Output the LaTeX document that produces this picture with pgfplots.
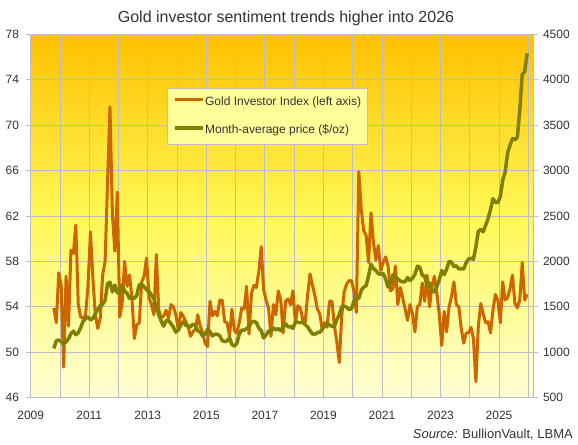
\documentclass[border=0pt]{standalone}
\usepackage{fontspec}
\setmainfont{Liberation Sans}
\usepackage{pgfplots}
\usepackage{pgfplotstable}
\pgfplotsset{compat=1.18}
\definecolor{gii}{HTML}{CC6600}
\definecolor{goldc}{HTML}{808000}
\definecolor{gridc}{HTML}{BDBDC8}
\definecolor{txt}{HTML}{333333}
\definecolor{bgtop}{HTML}{FFC000}
\definecolor{bgmid}{HTML}{FFF855}
\definecolor{bgbot}{HTML}{FFFFD5}
\definecolor{legfill}{HTML}{FFFF99}

\pgfplotstableread{
x gii price
2009.792 53.9 1043.16
2009.875 52.6 1127.04
2009.958 57.0 1134.72
2010.042 55.9 1117.96
2010.125 48.7 1095.41
2010.208 56.7 1113.34
2010.292 52.3 1148.69
2010.375 59.0 1205.43
2010.458 58.7 1232.92
2010.542 61.2 1192.97
2010.625 54.2 1215.81
2010.708 53.1 1270.98
2010.792 53.0 1342.02
2010.875 53.3 1369.89
2010.958 55.9 1390.55
2011.042 60.6 1356.40
2011.125 56.5 1372.73
2011.208 53.3 1424.01
2011.292 52.1 1473.81
2011.375 53.0 1510.44
2011.458 56.8 1528.66
2011.542 58.0 1572.81
2011.625 65.0 1755.81
2011.708 71.6 1771.85
2011.792 62.1 1665.21
2011.875 58.9 1738.98
2011.958 64.1 1652.31
2012.042 53.1 1656.12
2012.125 54.3 1742.62
2012.208 58.0 1673.77
2012.292 55.8 1649.69
2012.375 56.8 1591.19
2012.458 54.8 1598.76
2012.542 51.2 1593.91
2012.625 52.4 1626.03
2012.708 52.6 1744.81
2012.792 56.2 1746.58
2012.875 56.7 1721.64
2012.958 58.3 1688.53
2013.042 54.8 1670.95
2013.125 54.2 1627.57
2013.208 53.3 1592.86
2013.292 58.6 1485.08
2013.375 53.7 1413.50
2013.458 53.0 1342.36
2013.542 53.2 1286.72
2013.625 53.7 1347.65
2013.708 53.0 1348.60
2013.792 54.2 1316.58
2013.875 54.0 1275.86
2013.958 53.3 1221.51
2014.042 52.0 1244.27
2014.125 53.5 1299.58
2014.208 53.2 1336.08
2014.292 52.7 1298.45
2014.375 52.3 1288.74
2014.458 51.4 1279.10
2014.542 51.8 1310.59
2014.625 52.0 1295.13
2014.708 53.3 1236.55
2014.792 52.3 1222.49
2014.875 51.7 1175.33
2014.958 50.8 1200.62
2015.042 50.5 1251.85
2015.125 54.5 1227.08
2015.208 53.2 1178.63
2015.292 53.6 1198.93
2015.375 53.2 1198.63
2015.458 54.6 1181.50
2015.542 54.6 1128.31
2015.625 52.7 1117.93
2015.708 52.6 1124.77
2015.792 51.4 1159.25
2015.875 53.8 1085.70
2015.958 51.9 1068.25
2016.042 51.7 1097.91
2016.125 52.6 1199.50
2016.208 53.9 1245.14
2016.292 53.8 1242.26
2016.375 55.8 1260.95
2016.458 51.6 1276.40
2016.542 55.2 1336.66
2016.625 55.9 1340.17
2016.708 55.7 1326.61
2016.792 57.1 1266.55
2016.875 59.3 1238.35
2016.958 55.5 1157.36
2017.042 54.6 1192.10
2017.125 53.9 1234.20
2017.208 51.4 1231.09
2017.292 54.2 1266.88
2017.375 53.3 1246.04
2017.458 55.4 1260.26
2017.542 54.6 1236.84
2017.625 51.7 1283.04
2017.708 54.5 1314.07
2017.792 54.7 1279.51
2017.875 54.2 1281.90
2017.958 55.4 1264.45
2018.042 52.6 1331.30
2018.125 54.1 1330.73
2018.208 53.9 1324.66
2018.292 52.9 1334.76
2018.375 52.6 1303.45
2018.458 55.0 1281.57
2018.542 56.9 1237.71
2018.625 55.9 1201.71
2018.708 55.0 1198.39
2018.792 53.8 1215.39
2018.875 53.4 1220.65
2018.958 52.0 1250.40
2019.042 52.6 1291.75
2019.125 52.2 1320.07
2019.208 54.5 1300.90
2019.292 54.5 1285.91
2019.375 52.3 1283.70
2019.458 50.9 1359.04
2019.542 49.1 1412.89
2019.625 53.2 1500.41
2019.708 55.3 1510.58
2019.792 56.0 1494.81
2019.875 56.3 1470.02
2019.958 56.3 1479.13
2020.042 55.4 1560.67
2020.125 53.5 1597.10
2020.208 65.9 1591.93
2020.292 62.6 1683.17
2020.375 60.7 1715.91
2020.458 60.3 1732.22
2020.542 57.9 1840.39
2020.625 62.3 1968.63
2020.708 59.7 1921.92
2020.792 58.1 1900.27
2020.875 59.4 1866.30
2020.958 57.2 1858.42
2021.042 57.9 1867.18
2021.125 58.4 1808.17
2021.208 57.6 1718.23
2021.292 55.4 1760.04
2021.375 55.6 1850.26
2021.458 57.6 1834.57
2021.542 54.2 1807.84
2021.625 55.7 1785.28
2021.708 54.8 1775.14
2021.792 53.8 1776.89
2021.875 52.8 1821.81
2021.958 54.2 1790.36
2022.042 53.4 1816.02
2022.125 51.8 1856.30
2022.208 54.0 1947.83
2022.292 54.2 1936.97
2022.375 56.1 1848.49
2022.458 54.5 1836.57
2022.542 56.8 1732.74
2022.625 54.0 1764.56
2022.708 55.8 1680.96
2022.792 56.7 1664.45
2022.875 55.2 1725.07
2022.958 53.3 1797.55
2023.042 50.6 1897.88
2023.125 53.6 1854.93
2023.208 51.8 1912.68
2023.292 54.0 1999.76
2023.375 54.9 1991.56
2023.458 56.2 1942.90
2023.542 54.2 1951.02
2023.625 54.0 1918.65
2023.708 52.1 1916.65
2023.792 50.8 1916.72
2023.875 51.7 1985.81
2023.958 51.7 2026.93
2024.042 52.2 2033.93
2024.125 51.2 2023.18
2024.208 47.4 2158.80
2024.292 52.3 2331.16
2024.375 54.3 2351.55
2024.458 53.4 2325.73
2024.542 52.6 2398.49
2024.625 52.7 2470.92
2024.708 51.7 2571.00
2024.792 53.7 2690.04
2024.875 55.1 2650.32
2024.958 54.6 2648.00
2025.042 52.6 2709.69
2025.125 56.2 2894.67
2025.208 54.6 2983.25
2025.292 54.8 3193.22
2025.375 55.6 3280.97
2025.458 56.8 3352.12
2025.542 54.3 3340.15
2025.625 53.9 3368.03
2025.708 54.6 3665.05
2025.792 57.9 4058.33
2025.875 54.6 4087.19
2025.958 55.1 4290.00
}\data

\pgfplotsset{
  common/.style={
    at={(30.7bp,47.3bp)}, anchor=south west,
    scale only axis, width=502.6bp, height=363.4bp,
    xmin=2009, xmax=2026.17,
    /pgf/number format/assume math mode=true,
    /pgf/number format/1000 sep={},
    ticklabel style={font=\fontsize{12bp}{14bp}\selectfont, text=txt, inner sep=0pt},
    axis line style={gridc, line width=0.8bp},
    tick style={gridc, line width=0.8bp},
    tick align=outside,
    major tick length=4.5bp,
  }
}

\begin{document}
\begin{tikzpicture}
\fill[white] (0,0) rectangle (578bp,445bp);
\useasboundingbox (0,0) rectangle (578bp,445bp);
\begin{axis}[common,
  ymin=46, ymax=78,
  ytick={46,50,...,78},
  xtick={2009,2011,...,2025},
  minor xtick={2010,2012,...,2026},
  xtick style={draw=none},
  minor tick style={draw=none},
  grid=both,
  grid style={gridc, line width=0.8bp},
  minor grid style={gridc, line width=0.8bp},
  axis background/.style={top color=bgtop, bottom color=bgbot, middle color=bgmid},
  ytick pos=left, xtick pos=bottom,
  yticklabel style={anchor=east, xshift=-7bp},
  xticklabel style={anchor=north, yshift=-9bp},
  legend style={at={(0.2706,0.8514)}, anchor=north west, fill=legfill,
    draw=gridc, line width=0.8bp,
    font=\fontsize{12bp}{14bp}\selectfont, text=txt,
    inner xsep=6.5bp, inner ysep=7.5bp, row sep=16.7bp,
    nodes={inner sep=0pt, text height=9bp, text depth=3bp},
    /tikz/every even column/.append style={column sep=2bp}},
  legend cell align=left,
  legend image code/.code={\draw[#1] (0bp,3bp) -- (28bp,3bp);},
]
\addplot[gii, line width=3bp, line join=round, no markers] table[x=x, y=gii] {\data};
\addlegendentry{Gold Investor Index (left axis)}
\addlegendimage{goldc, line width=3.5bp}
\addlegendentry{Month-average price (\$/oz)}
\end{axis}
\begin{axis}[common,
  ymin=500, ymax=4500,
  ytick={500,1000,...,4500},
  axis y line*=right, axis x line=none,
  yticklabel style={anchor=west, xshift=5bp},
]
\addplot[goldc, line width=3.5bp, line join=round, no markers] table[x=x, y=price] {\data};
\end{axis}
\node[anchor=base, inner sep=0pt, text=txt, font=\fontsize{16bp}{19bp}\selectfont] at (286bp,422.3bp) {Gold investor sentiment trends higher into 2026};
\node[anchor=base east, inner sep=0pt, text=txt, font=\fontsize{13bp}{15bp}\selectfont] at (573bp,6.7bp) {\textit{Source:} BullionVault, LBMA};
\end{tikzpicture}
\end{document}
